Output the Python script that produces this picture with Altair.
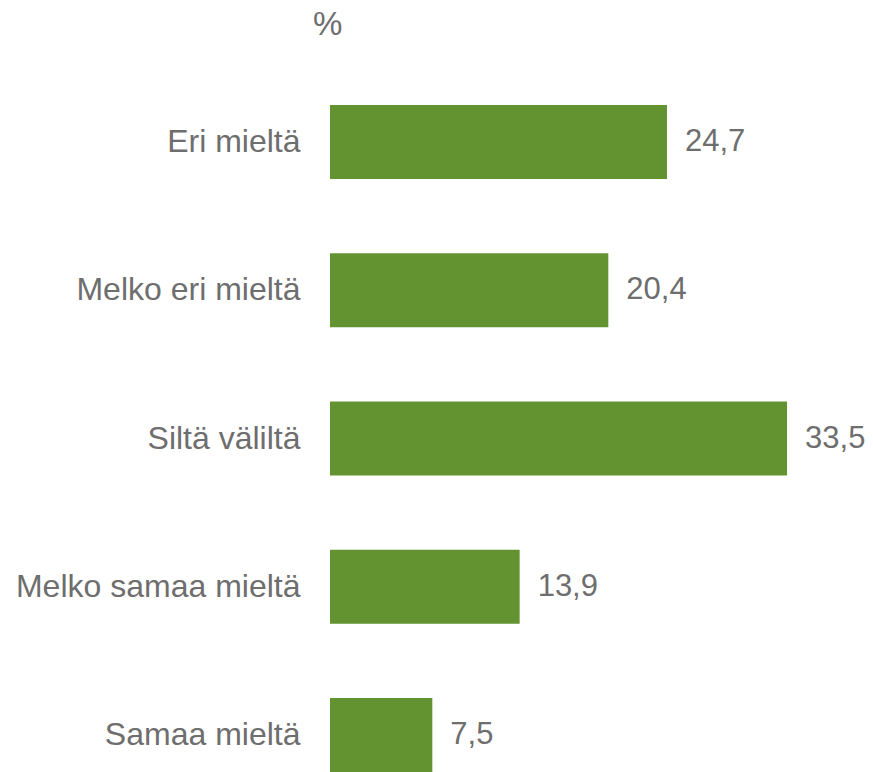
import altair as alt
import pandas as pd

categories = ["Eri mieltä", "Melko eri mieltä", "Siltä väliltä", "Melko samaa mieltä", "Samaa mieltä"]
values = [24.7, 20.4, 33.5, 13.9, 7.5]

df = pd.DataFrame({"category": categories, "value": values})

GREEN = "#639330"
GRAY = "#6e6e6e"
FONT = "Liberation Sans"

base = alt.Chart(df).encode(
    y=alt.Y("category:N", sort=categories,
            scale=alt.Scale(paddingInner=0.5, paddingOuter=0),
            axis=alt.Axis(title=None, ticks=False, domain=False, labelPadding=30,
                          labelFont=FONT, labelFontSize=32, labelColor=GRAY,
                          labelLimit=400)),
    x=alt.X("value:Q", scale=alt.Scale(domain=[0, 39.8], nice=False, zero=True),
            axis=None),
)

bars = base.mark_bar(color=GREEN)

labels = base.transform_calculate(
    lab="replace(format(datum.value, '.1f'), '.', ',')"
).mark_text(align="left", baseline="middle", dx=18, font=FONT, fontSize=31, color=GRAY).encode(
    text="lab:N"
)

chart = (bars + labels).properties(
    width=543,
    height=667,
    autosize=alt.AutoSizeParams(type="none"),
    padding={"left": 330, "top": 105, "right": 0, "bottom": 0},
    title=alt.Title("%", anchor="start", frame="group", dx=-17, offset=30, font=FONT,
                    fontSize=33, fontWeight="normal", color=GRAY, baseline="bottom"),
).configure_view(stroke=None)

chart.save("out.html", embed_options={"renderer": "svg", "actions": False})
